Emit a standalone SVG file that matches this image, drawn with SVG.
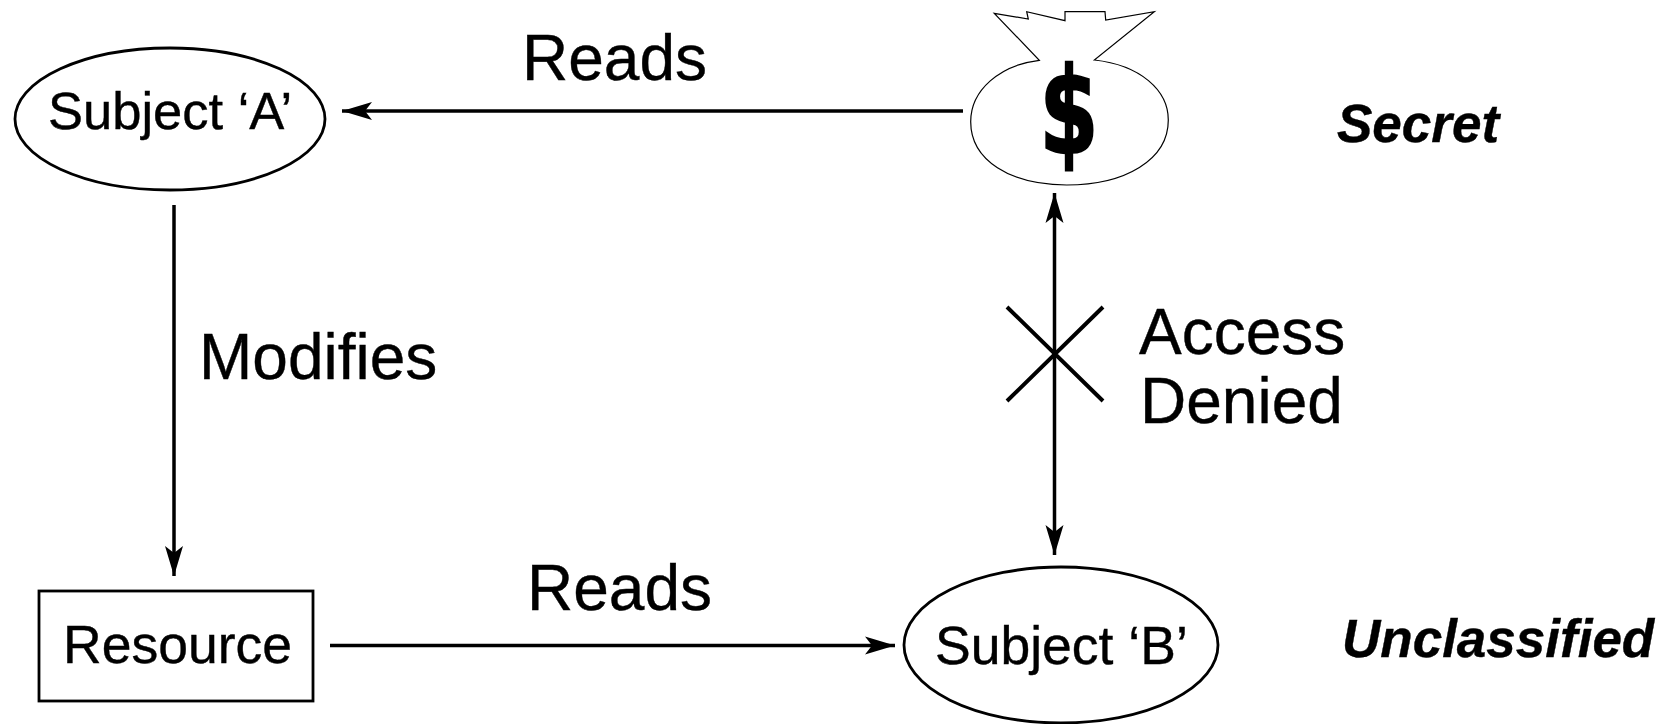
<svg xmlns="http://www.w3.org/2000/svg" width="1671" height="724" viewBox="0 0 1671 724">
<style>
text{font-family:"Liberation Sans",Arial,sans-serif;fill:#000;stroke:#000;stroke-width:.4}
.b{fill:#fff;stroke:#000;stroke-width:2.800}
.c{fill:none;stroke:#000;stroke-width:3.500}
.e{font-size:64px}
.n{font-size:53.500px}
.s{font-size:53px;font-weight:bold;font-style:italic}
</style>
<defs>
<marker id="a" markerUnits="userSpaceOnUse" markerWidth="30" markerHeight="18" refX="30" refY="9" viewBox="0 0 30 18" orient="auto-start-reverse" overflow="visible"><path d="M30 9L0 0L7 9L0 18Z" fill="#000"/></marker>
</defs>
<rect width="1671" height="724" fill="#fff"/>
<g id="connectors">
<path class="c" d="M963 111H342" marker-end="url(#a)"/>
<path class="c" d="M174 205V576" marker-end="url(#a)"/>
<path class="c" d="M330 645.500H895" marker-end="url(#a)"/>
<path class="c" d="M1054.500 193V555" marker-start="url(#a)" marker-end="url(#a)"/>
<path class="c" d="M1007 307L1103 401M1103 307L1007 401" style="stroke-width:4"/>
</g>
<g id="subject-a"><ellipse class="b" cx="170" cy="119" rx="155" ry="71"/><text x="48" y="129" style="font-size:52.500px">Subject ‘A’</text></g>
<g id="money-bag">
<path fill="#fff" stroke="#000" stroke-width="1.200" d="M994.300 13.300L1028.300 19L1026.700 11.700L1065 20.700V11.700H1105L1105.700 20L1154.300 11.700L1094.300 60C1140 65 1168.300 90 1168.300 120C1168.300 160 1125 185 1066.700 185C1010 185 970.700 160 970.700 121.700C970.700 90 1000 65 1039.300 60.300Z"/>
<text transform="translate(1069 152.500) scale(.83 1.170)" text-anchor="middle" style="font-family:'DejaVu Sans',sans-serif;font-weight:bold;font-size:102px;stroke-width:2">$</text>
</g>
<g id="resource"><rect class="b" x="39" y="591" width="274" height="110"/><text class="n" x="63" y="663">Resource</text></g>
<g id="subject-b"><ellipse class="b" cx="1061" cy="645" rx="157" ry="78"/><text class="n" x="935" y="664">Subject ‘B’</text></g>
<g id="labels">
<text class="e" x="522" y="80">Reads</text>
<text class="e" x="527" y="610">Reads</text>
<text class="e" x="199" y="379">Modifies</text>
<text class="e" x="1139" y="354">Access</text>
<text class="e" x="1140" y="423">Denied</text>
<text class="s" x="1337" y="142">Secret</text>
<text class="s" x="1342" y="657">Unclassified</text>
</g>
</svg>
